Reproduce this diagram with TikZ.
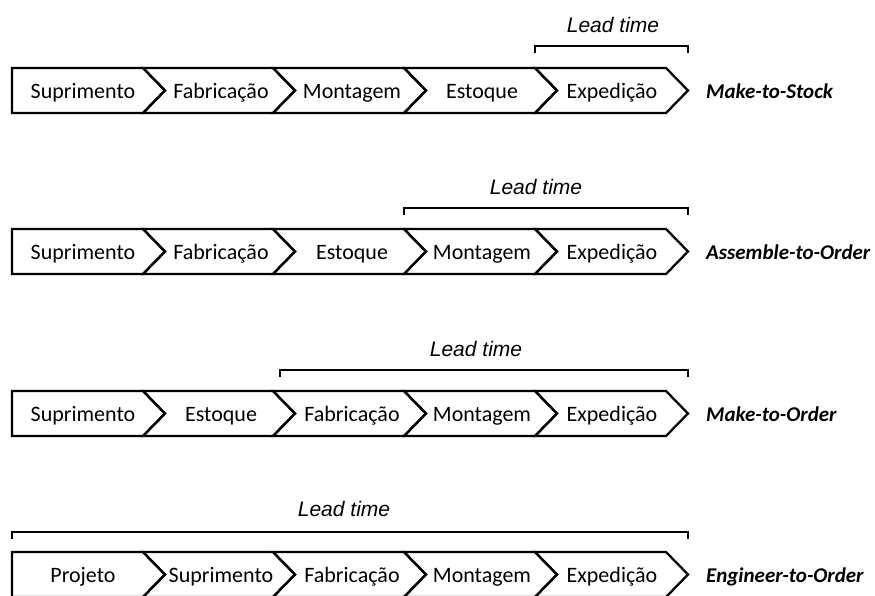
\documentclass[tikz,border=0pt]{standalone}
\usepackage{fontspec}
\setmainfont{Carlito}
\newfontfamily\arialfont{Liberation Sans}

\tikzset{every picture/.style={line width=2.3pt}}
\tikzset{
	etapa/.style={font=\fontsize{22}{26}\selectfont, anchor=base, inner sep=0pt},
	estrategia/.style={font=\fontsize{21}{25}\selectfont\bfseries\itshape, anchor=base west, inner sep=0pt},
	leadtime/.style={font=\arialfont\itshape\fontsize{21}{24}\selectfont, anchor=base, inner sep=0pt},
	colchete/.style={line width=2pt},
}

% #1 name, #2 top of the row, #3-#7 the five steps
\newcommand{\cadeia}[7]{
	\draw (12,#2) -- (143,#2) -- (165,#2+22.5) -- (143,#2+45) -- (12,#2+45) -- cycle;
	\foreach \xa/\xb in {143/273,273/404,404/535,535/666}
		\draw (\xa,#2) -- (\xb,#2) -- (\xb+22,#2+22.5) -- (\xb,#2+45) -- (\xa,#2+45) -- (\xa+22,#2+22.5) -- cycle;
	\node[etapa] (#1-1) at (83,#2+30) {#3};
	\node[etapa] (#1-2) at (221,#2+30) {#4};
	\node[etapa] (#1-3) at (352,#2+30) {#5};
	\node[etapa] (#1-4) at (482,#2+30) {#6};
	\node[etapa] (#1-5) at (612,#2+30) {#7};
}

\begin{document}
\begin{tikzpicture}[x=1pt,y=-1pt]
		\useasboundingbox (0,0) rectangle (875,595);
		\cadeia{mts}{68}{Suprimento}{Fabricação}{Montagem}{Estoque}{Expedição}
		\cadeia{ato}{229}{Suprimento}{Fabricação}{Estoque}{Montagem}{Expedição}
		\cadeia{mto}{391}{Suprimento}{Estoque}{Fabricação}{Montagem}{Expedição}
		\cadeia{eto}{552}{Projeto}{Suprimento}{Fabricação}{Montagem}{Expedição}
		\node[estrategia] (mts) at (705,98) {Make-to-Stock};
		\node[estrategia] (ato) at (705,259) {Assemble-to-Order};
		\node[estrategia] (mto) at (705,421) {Make-to-Order};
		\node[estrategia] (eto) at (705,582) {Engineer-to-Order};
		% lead time brackets
		\coordinate (mts-a) at (535,46); \coordinate (mts-b) at (688,46);
		\coordinate (ato-a) at (404,208); \coordinate (ato-b) at (688,208);
		\coordinate (mto-a) at (280,370); \coordinate (mto-b) at (688,370);
		\coordinate (eto-a) at (12,532); \coordinate (eto-b) at (688,532);
		\draw[colchete] ([yshift=-7pt]mts-a) -- (mts-a) -- (mts-b) -- ([yshift=-7pt]mts-b);
		\draw[colchete] ([yshift=-7pt]ato-a) -- (ato-a) -- (ato-b) -- ([yshift=-7pt]ato-b);
		\draw[colchete] ([yshift=-7pt]mto-a) -- (mto-a) -- (mto-b) -- ([yshift=-7pt]mto-b);
		\draw[colchete] ([yshift=-7pt]eto-a) -- (eto-a) -- (eto-b) -- ([yshift=-7pt]eto-b);
		\node[leadtime] (mts-lt) at (613,32) {Lead time};
		\node[leadtime] (ato-lt) at (536,194) {Lead time};
		\node[leadtime] (mto-lt) at (476,356) {Lead time};
		\node[leadtime] (eto-lt) at (344,516) {Lead time};
	\end{tikzpicture}
\end{document}
